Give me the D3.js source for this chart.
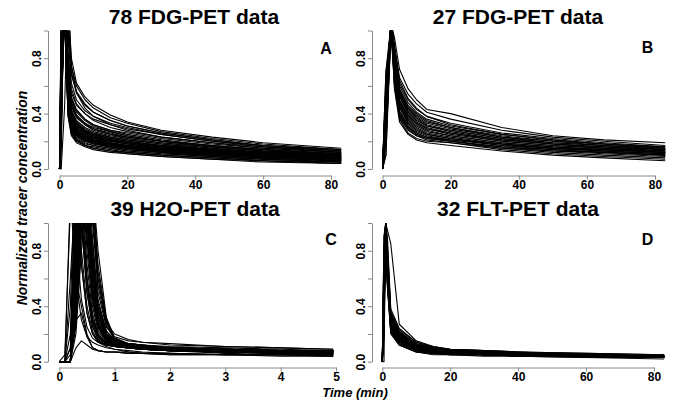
<!DOCTYPE html>
<html>
<head>
<meta charset="utf-8">
<script src="https://cdn.jsdelivr.net/npm/d3@7"></script>
<style>
  body { margin: 0; background: #fff; }
  text { font-family: "Liberation Sans", Arial, Helvetica, sans-serif; font-weight: bold; }
</style>
</head>
<body>
<svg id="chart" width="685" height="404"></svg>
<script>
// frame mid-times (min) and normalized curves
const timesA = [0, .5, 1.5, 2.5, 3.5, 5, 7.5, 10, 15, 20, 30, 45, 60, 83];
const curvesA = [
  [0,.4,1.5,1.2,.8,.62,.52,.46,.39,.34,.28,.23,.19,.15],
  [0,.3,1.4,1.1,.74,.6,.5,.44,.37,.33,.27,.22,.18,.14],
  [0,.7,1.3,1,.68,.55,.46,.41,.35,.31,.26,.21,.17,.13],
  [0,.5,1.4,.95,.62,.5,.42,.38,.33,.3,.25,.2,.16,.13],
  [0,.9,1.2,.8,.55,.46,.4,.36,.32,.29,.25,.2,.17,.14],
  [0,.2,1.5,.85,.58,.47,.4,.35,.3,.27,.23,.19,.16,.12],
  [0,1.1,1.1,.7,.5,.42,.36,.32,.28,.26,.22,.18,.15,.12],
  [0,.4,1.3,.75,.52,.43,.36,.32,.28,.25,.21,.17,.14,.11],
  [0,.6,1.2,.68,.46,.38,.33,.3,.27,.24,.2,.17,.14,.11],
  [0,1,1.1,.65,.45,.37,.32,.29,.26,.23,.2,.16,.13,.1],
  [0,.3,1.4,.72,.48,.38,.32,.28,.25,.22,.19,.16,.13,.1],
  [0,.5,1.3,.62,.42,.35,.3,.27,.24,.22,.19,.15,.12,.1],
  [0,.8,1.2,.6,.4,.33,.28,.26,.23,.21,.18,.15,.12,.09],
  [0,.4,1.3,.66,.43,.34,.29,.26,.23,.21,.18,.14,.12,.09],
  [0,.6,1.2,.58,.38,.31,.27,.25,.22,.2,.17,.14,.12,.09],
  [0,1.2,1.05,.55,.37,.3,.26,.24,.21,.19,.17,.14,.11,.09],
  [0,.2,1.4,.62,.4,.32,.27,.24,.21,.19,.16,.13,.11,.08],
  [0,.5,1.2,.54,.35,.29,.25,.23,.2,.18,.16,.13,.11,.08],
  [0,.9,1.1,.52,.34,.28,.24,.22,.2,.18,.15,.12,.1,.08],
  [0,.4,1.3,.58,.37,.3,.25,.22,.19,.17,.15,.12,.1,.07],
  [0,.6,1.2,.5,.33,.27,.23,.21,.19,.17,.14,.12,.1,.07],
  [0,.1,1.5,.56,.35,.28,.24,.21,.18,.16,.14,.11,.09,.07],
  [0,.8,1.1,.48,.32,.26,.22,.2,.18,.16,.14,.11,.09,.07],
  [0,.5,1.2,.52,.33,.26,.22,.19,.17,.15,.13,.11,.09,.06],
  [0,1,1.05,.46,.3,.25,.21,.19,.17,.15,.13,.1,.08,.06],
  [0,.3,1.3,.5,.31,.25,.21,.19,.16,.15,.12,.1,.08,.06],
  [0,.6,1.15,.44,.29,.24,.2,.18,.16,.14,.12,.1,.08,.06],
  [0,.4,1.25,.47,.3,.24,.2,.18,.16,.14,.12,.09,.07,.05],
  [0,.7,1.1,.42,.28,.23,.19,.17,.15,.13,.11,.09,.07,.05],
  [0,.5,1.2,.44,.28,.22,.18,.17,.15,.13,.11,.09,.07,.05],
  [0,.9,1.05,.4,.26,.21,.17,.16,.14,.12,.1,.08,.06,.05],
  [0,.3,1.3,.45,.27,.21,.17,.15,.13,.12,.1,.08,.06,.04],
  [0,.6,1.1,.4,.25,.2,.17,.15,.13,.11,.09,.07,.06,.04],
  [0,.4,1.2,.38,.24,.19,.16,.14,.12,.11,.09,.07,.05,.04],
  [0,.5,1.3,.56,.36,.3,.26,.23,.21,.19,.16,.13,.11,.09],
  [0,.7,1.2,.52,.34,.28,.24,.22,.2,.18,.15,.13,.1,.08],
  [0,.4,1.3,.5,.32,.27,.23,.21,.19,.17,.15,.12,.1,.08],
  [0,.6,1.2,.48,.31,.26,.22,.2,.18,.17,.14,.12,.1,.07],
  [0,.9,1.1,.46,.3,.25,.22,.2,.18,.16,.14,.11,.09,.07],
  [0,.3,1.4,.53,.34,.27,.23,.2,.18,.16,.13,.11,.09,.07],
  [0,.5,1.2,.5,.32,.26,.22,.2,.17,.16,.13,.11,.09,.06],
  [0,.8,1.1,.48,.31,.25,.21,.19,.17,.15,.13,.1,.08,.06],
  [0,.4,1.3,.66,.42,.33,.28,.25,.22,.2,.17,.14,.12,.1],
  [0,.6,1.2,.62,.4,.32,.27,.25,.22,.2,.17,.14,.12,.1],
  [0,.9,1.1,.58,.38,.3,.26,.24,.21,.19,.16,.14,.11,.09],
  [0,.5,1.3,.78,.48,.39,.33,.29,.25,.23,.2,.16,.13,.11],
  [0,.3,1.4,.8,.51,.41,.35,.31,.27,.24,.2,.17,.14,.11],
  [0,.7,1.3,1.05,.7,.56,.47,.41,.35,.31,.26,.21,.17,.13],
  [0,0,.45,1.3,.75,.55,.44,.38,.32,.28,.23,.19,.15,.12]
];

const timesB = [0, 1, 2.5, 3.5, 5, 7.5, 10, 13, 20, 35, 50, 65, 83];
const curvesB = [
  [0,.3,1.05,.95,.72,.58,.5,.43,.4,.3,.24,.21,.19],
  [0,.5,1.1,.9,.66,.54,.47,.41,.36,.28,.23,.2,.17],
  [0,.2,1,.85,.62,.5,.43,.38,.33,.26,.22,.19,.16],
  [0,.6,1.05,.88,.64,.51,.44,.38,.32,.25,.21,.18,.16],
  [0,.4,1,.82,.6,.48,.41,.36,.31,.25,.21,.18,.15],
  [0,.1,1.1,.84,.58,.46,.4,.35,.3,.24,.2,.18,.15],
  [0,.7,1,.8,.57,.45,.39,.34,.3,.23,.2,.17,.15],
  [0,.3,1.05,.78,.56,.44,.38,.33,.29,.23,.19,.17,.14],
  [0,.5,1,.83,.55,.43,.37,.32,.28,.22,.19,.17,.14],
  [0,.2,1.1,.76,.54,.42,.36,.31,.28,.22,.18,.16,.14],
  [0,.4,1,.8,.53,.41,.35,.31,.27,.21,.18,.16,.13],
  [0,.6,1.05,.74,.52,.4,.34,.3,.26,.21,.18,.15,.13],
  [0,.3,1,.77,.5,.39,.33,.29,.26,.2,.17,.15,.13],
  [0,.5,1.1,.72,.49,.38,.33,.29,.25,.2,.17,.15,.12],
  [0,.1,1,.75,.48,.37,.32,.28,.24,.19,.16,.14,.12],
  [0,.7,1.05,.7,.47,.36,.31,.27,.24,.19,.16,.14,.12],
  [0,.4,1,.73,.46,.35,.3,.26,.23,.18,.15,.14,.12],
  [0,.2,1.1,.68,.45,.34,.29,.25,.22,.18,.15,.13,.11],
  [0,.6,1,.71,.44,.33,.28,.25,.22,.17,.15,.13,.11],
  [0,.3,1.05,.66,.42,.32,.27,.24,.21,.17,.14,.12,.1],
  [0,.5,1,.69,.41,.31,.26,.23,.2,.16,.14,.12,.1],
  [0,.2,1.1,.64,.4,.3,.25,.22,.2,.16,.13,.12,.1],
  [0,.4,1,.67,.38,.29,.24,.21,.19,.15,.13,.11,.09],
  [0,.6,1.05,.62,.37,.28,.24,.22,.2,.15,.12,.1,.08],
  [0,.3,1,.6,.36,.26,.22,.2,.19,.14,.11,.09,.07],
  [0,.5,1.1,.58,.34,.25,.21,.19,.17,.13,.1,.08,.06],
  [0,.2,1,.63,.39,.3,.26,.23,.21,.18,.15,.13,.11]
];

const timesC = [0, .1, .2, .3, .4, .5, .6, .7, .85, 1, 1.25, 1.5, 2, 3, 4, 4.95];
const curvesC = [
  [0,0,1.2,.6,.3,.18,.14,.12,.1,.09,.08,.07,.06,.05,.05,.04],
  [0,.05,1.1,.9,.45,.25,.17,.14,.12,.11,.1,.09,.08,.07,.06,.06],
  [0,0,.6,1.3,.7,.35,.2,.15,.12,.11,.1,.09,.08,.07,.06,.05],
  [0,0,.4,1.5,1,.5,.26,.17,.13,.12,.1,.09,.08,.07,.07,.06],
  [0,0,.2,1.4,1.2,.6,.3,.19,.14,.12,.11,.1,.09,.08,.07,.06],
  [0,0,.1,1.3,1.4,.8,.4,.22,.15,.13,.11,.1,.09,.08,.07,.07],
  [0,0,0,1.2,1.5,.9,.45,.25,.16,.13,.11,.1,.09,.08,.07,.07],
  [0,0,0,1,1.6,1.1,.55,.28,.17,.14,.12,.11,.1,.08,.08,.07],
  [0,0,0,.9,1.4,1.2,.65,.32,.18,.14,.12,.11,.1,.09,.08,.08],
  [0,0,0,.8,1.5,1.3,.75,.36,.2,.15,.12,.11,.1,.09,.08,.08],
  [0,0,0,.7,1.3,1.4,.9,.42,.22,.16,.13,.12,.1,.09,.08,.08],
  [0,0,0,.6,1.2,1.5,1.1,.5,.25,.18,.15,.14,.12,.11,.1,.09],
  [0,0,0,.5,1.4,1.6,1.2,.6,.28,.2,.16,.14,.13,.11,.1,.09],
  [0,0,0,.4,1.3,1.4,1.3,.65,.3,.16,.13,.12,.1,.09,.08,.08],
  [0,0,0,1.1,1.3,.7,.35,.2,.14,.12,.1,.09,.08,.07,.07,.06],
  [0,0,.05,1.2,1,.5,.25,.16,.12,.11,.1,.09,.08,.07,.06,.06],
  [0,0,0,1.3,1.1,.55,.28,.18,.13,.11,.1,.09,.08,.07,.06,.06],
  [0,0,0,.9,1.6,1,.5,.26,.16,.13,.11,.1,.09,.08,.07,.07],
  [0,0,0,.75,1.4,1.1,.6,.3,.17,.13,.11,.1,.09,.08,.07,.07],
  [0,0,0,.65,1.5,1.2,.7,.34,.19,.14,.12,.11,.1,.09,.08,.07],
  [0,0,0,.55,1.3,1.3,.8,.38,.2,.15,.12,.11,.1,.09,.08,.08],
  [0,0,0,.45,1.2,1.2,.85,.45,.22,.15,.12,.11,.1,.09,.08,.08],
  [0,0,0,.35,1.1,1.3,1,.55,.26,.16,.13,.11,.1,.09,.08,.08],
  [0,0,0,.3,1,1.25,1.2,.7,.3,.17,.13,.12,.1,.09,.08,.08],
  [0,0,0,.25,.9,1.1,1.3,.8,.32,.17,.13,.12,.11,.1,.09,.08],
  [0,0,0,.3,.35,.18,.1,.08,.07,.07,.06,.06,.06,.05,.05,.05],
  [0,0,0,.1,.15,.12,.09,.08,.07,.07,.06,.06,.05,.05,.05,.04],
  [0,0,0,.6,.4,.2,.1,.08,.07,.07,.07,.06,.06,.05,.05,.05],
  [0,0,.1,1.1,.8,.4,.22,.15,.12,.11,.1,.09,.08,.07,.06,.05],
  [0,0,0,1,1.2,.6,.3,.18,.13,.11,.1,.09,.08,.07,.07,.06],
  [0,0,0,.85,1.3,.9,.45,.24,.15,.12,.11,.1,.09,.08,.07,.07],
  [0,0,0,.7,1.4,1,.55,.28,.16,.13,.11,.1,.09,.08,.08,.07],
  [0,0,0,.5,1.2,1.1,.65,.33,.18,.14,.12,.11,.1,.09,.08,.08],
  [0,0,0,.4,1,1.2,.75,.38,.2,.14,.12,.11,.1,.09,.08,.08],
  [0,0,0,1.2,.7,.35,.2,.14,.11,.09,.07,.06,.05,.05,.04,.04],
  [0,0,0,.9,1,.6,.32,.2,.14,.12,.1,.09,.08,.06,.05,.05],
  [0,0,0,.55,1.1,.9,.5,.27,.17,.14,.12,.11,.1,.09,.08,.07],
  [0,0,0,.2,.8,1.3,1.05,.6,.28,.16,.13,.12,.1,.09,.08,.08],
  [0,0,0,.3,1,1,.7,.4,.22,.15,.12,.11,.1,.09,.08,.07]
];

const timesD = [0, .5, 1, 1.5, 2.5, 5, 10, 15, 20, 30, 40, 60, 83];
const curvesD = [
  [0,.6,1,.9,.38,.24,.14,.11,.09,.08,.07,.06,.05],
  [0,.4,1,.95,.85,.27,.15,.11,.09,.08,.07,.06,.05],
  [0,.8,1,.8,.35,.22,.13,.1,.09,.08,.07,.05,.04],
  [0,.3,1,.85,.33,.21,.12,.1,.08,.07,.06,.05,.04],
  [0,.5,1,.75,.32,.2,.12,.09,.08,.07,.06,.05,.04],
  [0,.9,1,.7,.31,.19,.11,.09,.08,.07,.06,.05,.04],
  [0,.2,1,.78,.3,.18,.11,.09,.08,.07,.06,.05,.04],
  [0,.6,1,.72,.29,.17,.1,.08,.07,.06,.06,.05,.04],
  [0,.4,1,.68,.28,.17,.1,.08,.07,.06,.05,.04,.04],
  [0,.7,1,.65,.27,.16,.09,.08,.07,.06,.05,.04,.03],
  [0,.3,1,.7,.26,.15,.09,.07,.06,.06,.05,.04,.03],
  [0,.5,1,.62,.25,.15,.09,.07,.06,.05,.05,.04,.03],
  [0,.8,1,.6,.24,.14,.08,.07,.06,.05,.05,.04,.03],
  [0,.2,1,.66,.23,.13,.08,.06,.05,.05,.04,.04,.03],
  [0,.6,1,.58,.22,.12,.07,.06,.05,.05,.04,.03,.03],
  [0,.4,1,.55,.21,.12,.07,.05,.05,.04,.04,.03,.02],
  [0,.7,1,.8,.36,.23,.14,.1,.08,.07,.06,.05,.04],
  [0,.3,1,.74,.34,.21,.13,.1,.08,.07,.06,.05,.04],
  [0,.5,1,.7,.3,.2,.12,.09,.08,.07,.06,.05,.04],
  [0,.9,1,.64,.28,.18,.11,.09,.07,.06,.06,.05,.04],
  [0,.2,1,.68,.27,.17,.1,.08,.07,.06,.05,.05,.04],
  [0,.6,1,.6,.26,.16,.1,.08,.07,.06,.05,.04,.04],
  [0,.4,1,.63,.25,.16,.09,.07,.06,.06,.05,.04,.03],
  [0,.7,1,.57,.24,.15,.09,.07,.06,.05,.05,.04,.03],
  [0,.3,1,.61,.23,.14,.08,.07,.06,.05,.05,.04,.03],
  [0,.5,1,.56,.22,.13,.08,.06,.06,.05,.04,.04,.03],
  [0,.8,1,.59,.28,.19,.12,.09,.07,.06,.05,.04,.03],
  [0,.4,1,.66,.31,.2,.12,.09,.08,.07,.06,.05,.04],
  [0,.6,1,.62,.27,.17,.11,.08,.07,.06,.05,.04,.04],
  [0,.3,1,.58,.25,.16,.1,.08,.07,.06,.05,.04,.03],
  [0,.7,1,.54,.2,.12,.07,.06,.05,.05,.04,.04,.03],
  [0,0,1,.7,.3,.18,.11,.08,.07,.06,.05,.04,.04]
];

const titles = ["78 FDG-PET data", "27 FDG-PET data", "39 H2O-PET data", "32 FLT-PET data"];
const letters = ["A", "B", "C", "D"];
const xTicksLong = [0, 20, 40, 60, 80];
const xTicksShort = [0, 1, 2, 3, 4, 5];
const yTicks = [0, .2, .4, .6, .8, 1];
const yTickLabels = ["0.0", "", "0.4", "", "0.8", ""];

const svg = d3.select("#chart");

// layout of the four panels (pixels)
const panels = [
  {times: timesA, curves: curvesA, ticks: xTicksLong, x0: 59.5, x1: 331, yb: 169, yt: 30.5, ax: 48, ay: 175.5, clipR: 352, tx: 194, ty: 23.5, lx: 326, ly: 54},
  {times: timesB, curves: curvesB, ticks: xTicksLong, x0: 382.5, x1: 655, yb: 169, yt: 30.5, ax: 372, ay: 175.5, clipR: 676, tx: 518, ty: 23.5, lx: 647.5, ly: 53},
  {times: timesC, curves: curvesC, ticks: xTicksShort, x0: 59.3, x1: 336, yb: 361.7, yt: 223, ax: 48, ay: 367.5, clipR: 347, tx: 195, ty: 215.5, lx: 331, ly: 245},
  {times: timesD, curves: curvesD, ticks: xTicksLong, x0: 382.3, x1: 654, yb: 361.7, yt: 223, ax: 372, ay: 367.5, clipR: 676, tx: 518, ty: 215.5, lx: 647.5, ly: 245}
];

panels.forEach((p, k) => {
  const tMax = p.ticks[p.ticks.length - 1];
  const x = d3.scaleLinear().domain([0, tMax]).range([p.x0, p.x1]);
  const y = d3.scaleLinear().domain([0, 1]).range([p.yb, p.yt]);

  svg.append("clipPath").attr("id", "clip" + k)
    .append("rect")
    .attr("x", p.ax).attr("y", p.yt)
    .attr("width", p.clipR - p.ax).attr("height", p.ay - p.yt);

  const line = d3.line()
    .x((v, i) => x(p.times[i]))
    .y(v => y(v));

  svg.append("g").attr("clip-path", "url(#clip" + k + ")")
    .selectAll("path")
    .data(p.curves)
    .join("path")
    .attr("d", line)
    .attr("fill", "none")
    .attr("stroke", "#000")
    .attr("stroke-width", 1.1)
    .attr("stroke-linejoin", "round");

  const gx = svg.append("g")
    .attr("transform", `translate(0,${p.ay})`)
    .call(d3.axisBottom(x).tickValues(p.ticks).tickFormat(d3.format("d"))
      .tickSize(4).tickSizeOuter(0).tickPadding(1));
  gx.selectAll("path, line").attr("stroke", "#888");
  gx.selectAll("text").attr("font-size", 12).attr("font-family", null).attr("fill", "#000");

  const gy = svg.append("g")
    .attr("transform", `translate(${p.ax},0)`)
    .call(d3.axisLeft(y).tickValues(yTicks).tickFormat((d, i) => yTickLabels[i]).tickSize(4).tickSizeOuter(0));
  gy.selectAll("path, line").attr("stroke", "#888");
  gy.selectAll("text")
    .attr("font-size", 12).attr("font-family", null).attr("fill", "#000")
    .attr("x", 0).attr("y", -7).attr("dy", 0)
    .attr("text-anchor", "middle")
    .attr("transform", "rotate(-90)");

  svg.append("text")
    .attr("x", p.tx).attr("y", p.ty)
    .attr("text-anchor", "middle")
    .attr("font-size", 21)
    .text(titles[k]);

  svg.append("text")
    .attr("x", p.lx).attr("y", p.ly)
    .attr("text-anchor", "middle")
    .attr("font-size", 16)
    .text(letters[k]);
});

svg.append("text")
  .attr("transform", "translate(27,198) rotate(-90)")
  .attr("text-anchor", "middle")
  .attr("font-size", 14)
  .attr("font-style", "italic")
  .text("Normalized tracer concentration");

svg.append("text")
  .attr("x", 355).attr("y", 397)
  .attr("text-anchor", "middle")
  .attr("font-size", 13)
  .attr("font-style", "italic")
  .text("Time (min)");
</script>
</body>
</html>
